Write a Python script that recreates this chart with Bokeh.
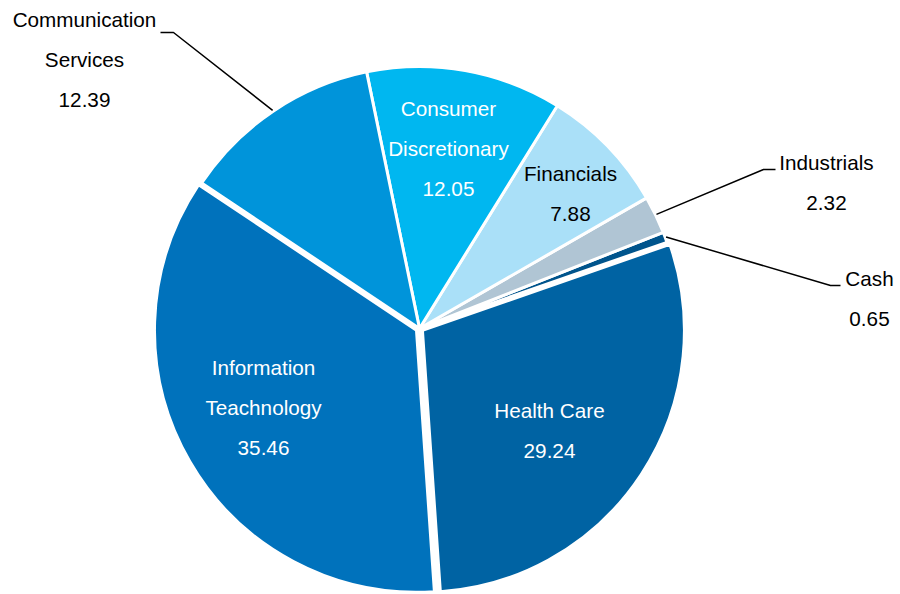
import math
from bokeh.plotting import figure
from bokeh.models import Range1d, ColumnDataSource
from bokeh.embed import file_html
from bokeh.resources import INLINE
from bokeh.core.properties import value

# ---------------- data ----------------
categories = ["Cash", "Industrials", "Financials", "Consumer Discretionary",
              "Communication Services", "Information Teachnology", "Health Care"]
weights = [0.65, 2.32, 7.88, 12.05, 12.39, 35.46, 29.24]
name_lines = [["Cash"], ["Industrials"], ["Financials"], ["Consumer", "Discretionary"],
              ["Communication", "Services"], ["Information", "Teachnology"], ["Health Care"]]
value_labels = ["0.65", "2.32", "7.88", "12.05", "12.39", "35.46", "29.24"]

# ---------------- styles / layout ----------------
colors = ["#00548C", "#B0C5D4", "#AAE0F8", "#00B7F0", "#0094DA", "#0072BC", "#0063A3"]
text_colors = ["#000000", "#000000", "#000000", "#FFFFFF", "#000000", "#FFFFFF", "#FFFFFF"]
explode = [0, 0, 0, 0, 0, 3.5, 3.5]
CX, CY, R = 419, 328, 262          # screen pixels
START_DEG = 19.2
LINE_GAP = 40
# screen-pixel centre of the first text line of each label
label_pos = [(869, 278), (826, 162), (570, 173), (448, 108), (84, 19), (263, 367), (549, 410)]
# leader lines: elbow and end (screen pixels); None = no leader
leaders = [((830, 285), (840, 285)), ((763, 169), (775, 169)), None, None,
           ((173, 32), (160, 32)), None, None]

W, H = 900, 594
p = figure(width=W, height=H, output_backend="svg", toolbar_location=None,
           x_range=Range1d(0, W), y_range=Range1d(-H, 0),
           min_border=0, outline_line_color=None, background_fill_color="white")
p.axis.visible = False
p.grid.visible = False

total = sum(weights)
starts, ends, xs, ys, mids = [], [], [], [], []
a = START_DEG
for w, e in zip(weights, explode):
    span = w / total * 360.0
    s, en = a, a + span
    m = math.radians((s + en) / 2)
    starts.append(math.radians(s))
    ends.append(math.radians(en))
    mids.append(m)
    xs.append(CX + e * math.cos(m))
    ys.append(-CY + e * math.sin(m))
    a = en

src = ColumnDataSource(dict(x=xs, y=ys, start=starts, end=ends, color=colors, cat=categories))
p.wedge(x="x", y="y", radius=R, start_angle="start", end_angle="end",
        fill_color="color", line_color="white", line_width=3, source=src)

# leader lines
for i, ld in enumerate(leaders):
    if ld is None:
        continue
    m = mids[i]
    x0 = CX + (R + 1) * math.cos(m)
    y0 = -CY + (R + 1) * math.sin(m)
    (ex, ey), (fx, fy) = ld
    p.line([x0, ex, fx], [y0, -ey, -fy], line_color="black", line_width=1.5)

# labels
tx, ty, tt, tc = [], [], [], []
for i in range(len(categories)):
    lx, ly = label_pos[i]
    lines = name_lines[i] + [value_labels[i]]
    for k, t in enumerate(lines):
        tx.append(lx)
        ty.append(-(ly + k * LINE_GAP))
        tt.append(t)
        tc.append(text_colors[i])
tsrc = ColumnDataSource(dict(x=tx, y=ty, text=tt, color=tc))
p.text(x="x", y="y", text="text", text_color="color", source=tsrc,
       text_font=value("Liberation Sans"), text_font_size=value("20.7px"),
       text_align="center", text_baseline="middle")

open("out.html", "w").write(file_html(p, INLINE))
